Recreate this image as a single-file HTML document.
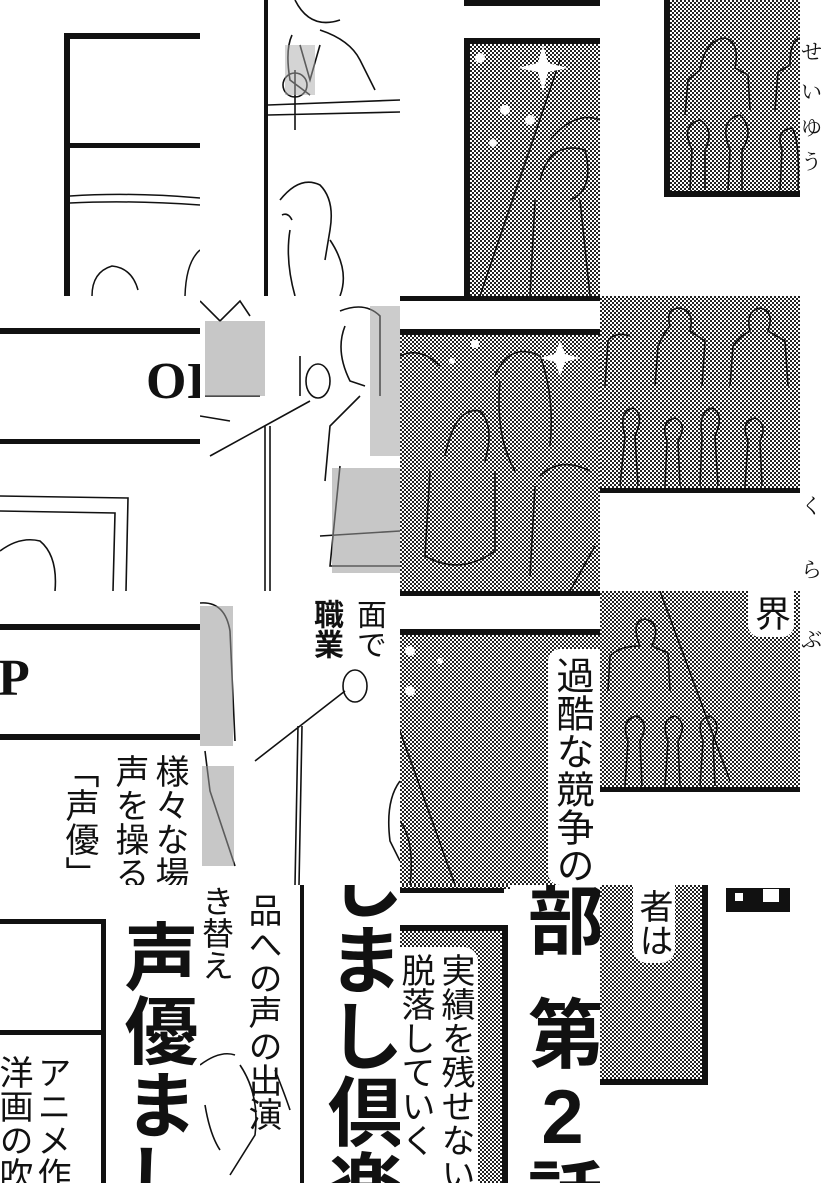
<!DOCTYPE html>
<html><head><meta charset="utf-8">
<style>
html,body{margin:0;padding:0;background:#fff;}
body{width:822px;height:1200px;position:relative;overflow:hidden;font-family:"Liberation Sans","Noto Sans CJK JP",sans-serif;}
.a{position:absolute;}
.t{position:absolute;background:repeating-conic-gradient(#222 0 25%,#fff 0 50%) 0 0/4px 4px;}
.k{position:absolute;background:#111;}
.v{position:absolute;writing-mode:vertical-rl;text-orientation:upright;color:#111;line-height:1;white-space:nowrap;}
.tile{position:absolute;overflow:hidden;}
svg{position:absolute;}
.kana{position:absolute;left:801px;font-family:'Liberation Serif','Noto Serif CJK SC',serif;font-size:21px;color:#111;line-height:1;}
</style></head><body>

<!-- ROW 0 -->
<div class="tile" style="left:0;top:0;width:200px;height:296px;">
  <div class="k" style="left:64px;top:33px;width:6px;height:263px"></div>
  <div class="k" style="left:64px;top:33px;width:136px;height:6px"></div>
  <div class="k" style="left:64px;top:143px;width:136px;height:5px"></div>
  <svg width="200" height="296"><path d="M70 196 Q130 192 200 198 M70 203 Q130 200 200 205" stroke="#111" stroke-width="1.5" fill="none"/>
  <path d="M92 296 Q92 272 112 266 Q132 268 138 290 M185 296 Q186 262 200 250" stroke="#111" stroke-width="1.5" fill="none"/></svg>
</div>
<div class="tile" style="left:200px;top:0;width:200px;height:296px;">
  <div class="k" style="left:64px;top:0;width:4px;height:296px"></div>
  <svg width="200" height="296"><g stroke="#111" stroke-width="1.6" fill="none">
  <path d="M95 0 Q110 30 140 20 M92 35 Q85 50 90 80 L110 95 M120 30 Q150 40 160 60 L175 90 M100 45 L110 80 L120 45"/>
  <circle cx="95" cy="85" r="12"/><path d="M68 105 L200 100 M68 115 L200 112 M95 70 L95 130"/>
  <path d="M80 200 Q100 175 120 185 Q135 200 130 230 L125 260 M90 230 Q85 260 95 296 M130 240 Q150 270 140 296 M82 215 Q88 212 92 220"/></g>
  <rect x="85" y="45" width="30" height="50" fill="#aaa" opacity=".5"/></svg>
</div>
<div class="tile" style="left:400px;top:0;width:200px;height:296px;">
  <div class="k" style="left:64px;top:0;width:136px;height:6px"></div>
  <div class="k" style="left:64px;top:38px;width:136px;height:258px"></div>
  <div class="t" style="left:70px;top:44px;width:130px;height:252px"></div>
  <svg width="200" height="296"><g stroke="#111" stroke-width="1.6" fill="none">
  <path d="M80 296 L160 60 M150 140 Q175 110 200 120 M140 180 Q150 140 185 150 Q195 190 170 200 M135 200 L130 296 M180 200 L190 296"/></g>
  <g fill="#fff"><path d="M143 45 L148 63 L168 68 L148 72 L143 92 L138 72 L118 68 L138 63Z"/><circle cx="105" cy="110" r="5"/><circle cx="130" cy="120" r="5"/><circle cx="93" cy="143" r="4"/><circle cx="80" cy="58" r="5"/></g></svg>
</div>
<div class="tile" style="left:600px;top:0;width:200px;height:296px;">
  <div class="k" style="left:64px;top:0;width:136px;height:197px"></div>
  <div class="t" style="left:70px;top:0;width:130px;height:191px"></div>
  <svg width="200" height="200"><g stroke="#111" stroke-width="1.6" fill="none">
  <path d="M85 115 L88 80 L100 70 Q105 40 125 38 Q140 42 135 68 L148 75 L150 110 M175 110 L178 72 L190 65 Q190 40 200 38"/>
  <path d="M90 190 L92 150 Q80 125 100 120 Q115 130 105 150 L105 190 M128 190 L130 150 Q118 120 140 115 Q155 130 142 150 L142 190 M180 190 L182 150 Q175 130 192 128 Q200 140 198 190"/></g></svg>
</div>
<div class="kana" style="top:42px">せ</div>
<div class="kana" style="top:82px">い</div>
<div class="kana" style="top:118px">ゆ</div>
<div class="kana" style="top:152px">う</div>

<!-- ROW 1 -->
<div class="tile" style="left:0;top:296px;width:200px;height:295px;">
  <div class="k" style="left:0;top:32px;width:200px;height:6px"></div>
  <div class="k" style="left:0;top:143px;width:200px;height:5px"></div>
  <div class="a" style="left:146px;top:60px;font-family:'Liberation Serif',serif;font-weight:bold;font-size:52px;color:#111;line-height:1">OI</div>
  <svg width="200" height="295"><g stroke="#111" stroke-width="1.6" fill="none">
  <path d="M0 200 L128 202 L126 295 M0 215 L115 217 L113 295 M0 255 Q20 240 40 245 Q58 260 55 295"/></g></svg>
</div>
<div class="tile" style="left:200px;top:296px;width:200px;height:295px;">
  <svg width="200" height="295"><g stroke="#111" stroke-width="1.6" fill="none">
  <path d="M0 5 L20 25 L40 5 L50 20 M5 100 L60 100 M0 120 L30 125 M10 160 L110 105 M65 130 L65 295 M70 130 L70 295 M100 60 L100 100 M140 15 Q165 5 180 20 L180 100 M145 30 Q135 55 150 85 L165 90 M160 100 L130 130 L125 185 M140 170 L130 270 L200 270 M120 240 L200 235"/>
  <ellipse cx="118" cy="85" rx="12" ry="17"/></g>
  <rect x="5" y="25" width="60" height="75" fill="#999" opacity=".55"/>
  <rect x="170" y="10" width="30" height="150" fill="#999" opacity=".5"/>
  <rect x="132" y="172" width="68" height="105" fill="#999" opacity=".55"/></svg>
</div>
<div class="tile" style="left:400px;top:296px;width:200px;height:295px;">
  <div class="k" style="left:0;top:0;width:200px;height:5px"></div>
  <div class="k" style="left:0;top:33px;width:200px;height:6px"></div>
  <div class="t" style="left:0;top:39px;width:200px;height:256px"></div>
  <svg width="200" height="295"><g stroke="#111" stroke-width="1.6" fill="none">
  <path d="M95 80 Q110 45 140 60 Q155 100 150 150 M100 85 Q95 140 115 175 M45 160 Q55 110 80 115 Q95 130 85 165 M30 175 L25 260 Q60 280 95 255 L95 175 M140 180 Q160 160 190 175 M135 190 L130 280 M195 250 L170 295 M0 60 Q20 50 40 70"/></g>
  <g fill="#fff"><path d="M160 45 L165 58 L180 62 L165 66 L160 80 L155 66 L140 62 L155 58Z"/><circle cx="75" cy="48" r="4"/><circle cx="52" cy="65" r="3"/></g></svg>
</div>
<div class="tile" style="left:600px;top:296px;width:200px;height:295px;">
  <div class="t" style="left:0;top:0;width:200px;height:195px"></div>
  <div class="k" style="left:0;top:192px;width:200px;height:5px"></div>
  <svg width="200" height="200"><g stroke="#111" stroke-width="1.6" fill="none">
  <path d="M5 90 L8 45 Q15 35 30 40 M55 90 L58 50 Q65 35 70 30 Q65 12 80 12 Q95 15 90 35 L105 45 L102 90 M130 90 L133 50 Q140 40 150 35 Q145 15 160 12 Q175 15 168 35 L185 45 L188 90"/>
  <path d="M20 190 L25 140 Q18 115 33 112 Q45 118 35 140 L38 190 M65 190 L67 145 Q60 125 75 122 Q88 128 78 145 L80 190 M100 190 L102 140 Q98 115 112 112 Q125 118 115 140 L118 190 M145 190 L148 145 Q140 125 155 122 Q168 128 160 145 L162 190"/></g></svg>
</div>
<div class="kana" style="top:496px">く</div>
<div class="kana" style="top:560px">ら</div>
<div class="kana" style="top:630px">ぶ</div>

<!-- ROW 2 -->
<div class="tile" style="left:0;top:591px;width:200px;height:294px;">
  <div class="k" style="left:0;top:33px;width:200px;height:6px"></div>
  <div class="k" style="left:0;top:143px;width:200px;height:6px"></div>
  <div class="a" style="left:-2px;top:62px;font-family:'Liberation Serif',serif;font-weight:bold;font-size:52px;color:#111;line-height:1">P</div>
  <div class="v" style="left:152px;top:163px;font-size:34px;">様々な場</div>
  <div class="v" style="left:112px;top:163px;font-size:34px;">声を操る</div>
  <div class="v" style="left:62px;top:163px;font-size:34px;">「声優」</div>
</div>
<div class="tile" style="left:200px;top:591px;width:200px;height:294px;">
  <svg width="200" height="294"><g stroke="#111" stroke-width="1.6" fill="none">
  <path d="M0 12 Q25 10 30 40 L35 150 M5 160 L10 200 L35 275 M55 170 L145 100 M98 135 L95 294 M102 135 L99 294 M200 190 Q185 210 190 250 L200 270"/>
  <ellipse cx="155" cy="95" rx="12" ry="16"/></g>
  <rect x="0" y="15" width="33" height="140" fill="#999" opacity=".55"/>
  <rect x="2" y="175" width="32" height="100" fill="#999" opacity=".55"/></svg>
  <div class="v" style="left:110px;top:8px;font-size:30px;font-weight:bold;">職業</div>
  <div class="v" style="left:153px;top:8px;font-size:30px;">面で</div>
</div>
<div class="tile" style="left:400px;top:591px;width:200px;height:294px;">
  <div class="k" style="left:0;top:0;width:200px;height:5px"></div>
  <div class="k" style="left:0;top:38px;width:200px;height:6px"></div>
  <div class="t" style="left:0;top:44px;width:200px;height:250px"></div>
  <svg width="200" height="294"><g stroke="#111" stroke-width="1.6" fill="none"><path d="M0 140 L55 294 M0 230 Q15 250 10 294"/></g>
  <g fill="#fff"><circle cx="10" cy="60" r="5"/><circle cx="40" cy="70" r="3"/><circle cx="10" cy="100" r="5"/></g></svg>
  <div class="a" style="left:148px;top:58px;width:52px;height:236px;background:#fff;border-radius:12px 0 0 12px"></div>
  <div class="v" style="left:152px;top:65px;font-size:38px;">過酷な競争の世</div>
</div>
<div class="tile" style="left:600px;top:591px;width:200px;height:294px;">
  <div class="t" style="left:0;top:0;width:200px;height:198px"></div>
  <div class="k" style="left:0;top:196px;width:200px;height:5px"></div>
  <svg width="200" height="200"><g stroke="#111" stroke-width="1.6" fill="none">
  <path d="M8 100 L10 65 Q20 55 40 55 Q30 30 45 28 Q62 32 52 55 L68 62 L70 100 M60 0 L130 190 M25 195 L28 150 Q20 128 37 125 Q50 132 40 150 L42 195 M65 195 L68 150 Q60 128 75 125 Q88 132 78 150 L80 195 M100 195 L103 150 Q95 128 110 125 Q122 132 113 150 L115 195"/></g></svg>
  <div class="a" style="left:148px;top:0;width:46px;height:46px;background:#fff;border-radius:0 0 12px 12px"></div>
  <div class="v" style="left:152px;top:4px;font-size:36px;">界</div>
</div>

<!-- ROW 3 -->
<div class="tile" style="left:0;top:885px;width:200px;height:298px;">
  <div class="k" style="left:0;top:34px;width:106px;height:5px"></div>
  <div class="k" style="left:101px;top:34px;width:5px;height:264px"></div>
  <div class="k" style="left:0;top:145px;width:106px;height:5px"></div>
  <div class="v" style="left:34px;top:170px;font-size:34px;">アニメ作</div>
  <div class="v" style="left:-4px;top:170px;font-size:34px;">洋画の吹</div>
  <div class="v" style="left:118px;top:34px;font-size:74px;font-weight:bold;">声優まし</div>
</div>
<div class="tile" style="left:200px;top:885px;width:200px;height:298px;">
  <div class="k" style="left:100px;top:0;width:4px;height:298px"></div>
  <svg width="200" height="298"><g stroke="#111" stroke-width="1.6" fill="none">
  <path d="M0 180 Q20 165 35 170 M5 220 Q10 250 20 265 M40 180 Q60 210 55 250 L30 290 M75 185 Q85 210 90 225"/></g></svg>
  <div class="v" style="left:45px;top:8px;font-size:34px;">品への声の出演</div>
  <div class="v" style="left:0;top:0;font-size:32px;">き替え</div>
  <div class="v" style="left:120px;top:-40px;font-size:76px;font-weight:bold;">しまし倶楽</div>
</div>
<div class="tile" style="left:400px;top:885px;width:200px;height:298px;">
  <div class="t" style="left:0;top:0;width:110px;height:4px"></div>
  <div class="k" style="left:0;top:3px;width:104px;height:5px"></div>
  <div class="k" style="left:0;top:40px;width:108px;height:258px"></div>
  <div class="t" style="left:0;top:46px;width:102px;height:252px"></div>
  <div class="a" style="left:0;top:62px;width:78px;height:236px;background:#fff;border-radius:0 14px 0 0"></div>
  <div class="v" style="left:38px;top:68px;font-size:34px;">実績を残せない</div>
  <div class="v" style="left:-2px;top:68px;font-size:34px;">脱落していく</div>
  <div class="v" style="left:120px;top:-4px;font-size:76px;font-weight:bold;">部</div>
  <div class="v" style="left:120px;top:110px;font-size:76px;font-weight:bold;">第</div>
  <div class="v" style="left:124px;top:190px;font-size:76px;font-weight:bold;">2</div>
  <div class="v" style="left:120px;top:272px;font-size:76px;font-weight:bold;">話</div>
</div>
<div class="tile" style="left:600px;top:885px;width:222px;height:298px;">
  <div class="k" style="left:0;top:0;width:108px;height:200px"></div>
  <div class="t" style="left:0;top:0;width:102px;height:194px"></div>
  <div class="a" style="left:33px;top:0;width:42px;height:78px;background:#fff;border-radius:0 0 14px 14px"></div>
  <div class="v" style="left:36px;top:4px;font-size:34px;">者は</div>
  <div class="k" style="left:126px;top:3px;width:64px;height:24px"></div>
  <div class="a" style="left:135px;top:8px;width:8px;height:8px;background:#fff"></div>
  <div class="a" style="left:163px;top:4px;width:16px;height:13px;background:#fff"></div>
</div>

</body></html>
